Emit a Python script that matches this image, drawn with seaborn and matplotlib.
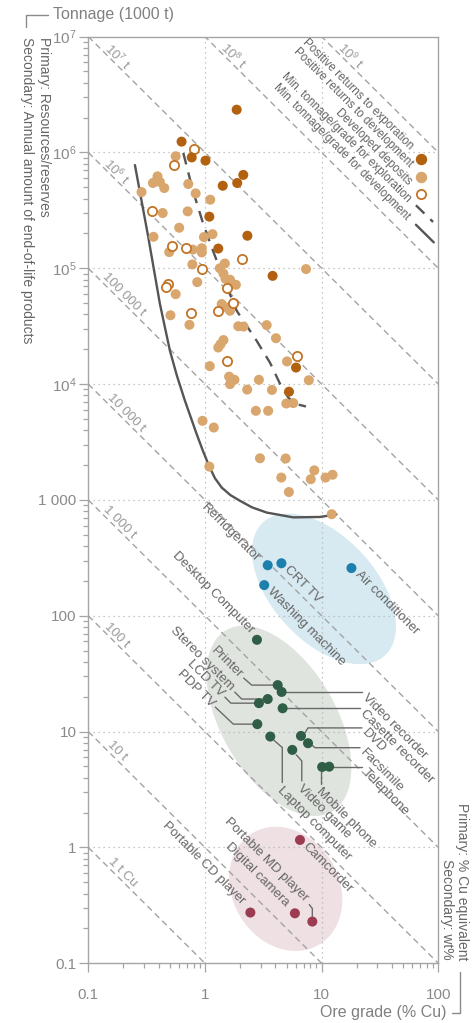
import numpy as np
import pandas as pd
import matplotlib
matplotlib.use("Agg")
import matplotlib.pyplot as plt
import seaborn as sns
from matplotlib.lines import Line2D
from matplotlib.ticker import LogLocator, NullFormatter

sns.set_theme(style="white")
FONT = "Liberation Sans"
plt.rcParams["font.family"] = [FONT, "DejaVu Sans"]
plt.rcParams["mathtext.fontset"] = "custom"
plt.rcParams["mathtext.rm"] = FONT
plt.rcParams["mathtext.it"] = FONT
plt.rcParams["mathtext.bf"] = FONT

# ---------------- primary deposits: grade (% Cu) vs tonnage (1000 t) ----------------
explore_grade = [1.87, 0.63, 0.77, 1.01, 2.13, 1.89, 1.42, 1.09, 2.31, 1.30, 3.80, 6.03, 5.25]
explore_tonnage = [2.34e6, 1.24e6, 9.06e5, 8.5e5, 6.4e5, 5.45e5, 5.16e5, 2.79e5, 1.91e5,
                   1.48e5, 8.6e4, 1.39e4, 8.6e3]

develop_grade = [0.561, 0.392, 0.358, 0.411, 0.448, 0.286, 0.719, 0.832, 1.11, 0.434, 0.711,
                 0.601, 0.362, 1.16, 0.98, 0.494, 0.785, 0.94, 0.94, 7.35, 1.64, 1.84, 1.50,
                 1.48, 0.78, 1.34, 1.44, 0.859, 0.561, 1.39, 1.53, 1.64, 0.506, 0.736, 1.93,
                 2.14, 3.38, 4.06, 1.44, 1.36, 1.30, 5.05, 1.10, 1.61, 1.79, 1.64, 2.90, 7.77,
                 2.30, 3.75, 4.98, 5.71, 2.73, 3.48, 0.953, 1.19, 2.96, 4.92, 1.09, 8.65, 8.07,
                 4.51, 10.8, 12.4, 5.24, 12.2]
develop_tonnage = [9.27e5, 6.22e5, 5.45e5, 5.56e5, 4.93e5, 4.55e5, 5.34e5, 4.43e5, 3.91e5,
                   3.0e5, 3.1e5, 2.24e5, 1.87e5, 1.97e5, 1.86e5, 1.38e5, 1.45e5, 1.49e5,
                   1.37e5, 9.84e4, 7.96e4, 7.2e4, 8.1e4, 1.10e5, 1.08e5, 1.0e5, 9.0e4, 7.6e4,
                   5.98e4, 4.91e4, 4.59e4, 4.3e4, 3.93e4, 3.25e4, 3.16e4, 3.14e4, 3.23e4,
                   2.49e4, 2.40e4, 2.21e4, 2.07e4, 1.57e4, 1.43e4, 1.16e4, 1.09e4, 1.0e4,
                   1.09e4, 1.08e4, 8.97e3, 8.9e3, 6.8e3, 6.86e3, 5.88e3, 5.88e3, 4.82e3,
                   4.22e3, 2.29e3, 2.28e3, 1.94e3, 1.80e3, 1.51e3, 1.56e3, 1.56e3, 1.65e3,
                   1.17e3, 753]

deposit_grade = [0.81, 0.54, 0.349, 0.519, 0.684, 2.06, 0.95, 0.481, 0.462, 1.53, 1.73, 1.29,
                 0.76, 1.55, 6.18]
deposit_tonnage = [1.08e6, 7.78e5, 3.1e5, 1.56e5, 1.51e5, 1.21e5, 9.8e4, 7.3e4, 6.84e4, 6.7e4,
                   5.0e4, 4.3e4, 4.1e4, 1.57e4, 1.74e4]

# minimum tonnage/grade curves
min_explore_grade = [0.652, 0.789, 0.96, 1.17, 1.48, 1.87, 2.77, 3.61, 4.39, 5.17, 5.91, 7.34]
min_explore_tonnage = [9.9e5, 4.67e5, 2.47e5, 1.42e5, 7.64e4, 4.30e4, 2.37e4, 1.53e4, 1.01e4,
                       7.66e3, 6.76e3, 6.41e3]
min_develop_grade = [0.251, 0.325, 0.411, 0.501, 0.575, 0.674, 0.849, 0.961, 1.09, 1.218,
                     1.39, 1.654, 2.0, 2.53, 3.38, 5.71, 9.66, 13.4]
min_develop_tonnage = [7.78e5, 1.91e5, 4.93e4, 1.94e4, 1.18e4, 7.17e3, 3.70e3, 2.65e3, 1.94e3,
                       1.54e3, 1.28e3, 1.10e3, 982, 863, 778, 707, 713, 750]

# ---------------- secondary: end-of-life products ----------------
large_names = ["Refridgerator", "CRT TV", "Washing machine", "Air conditioner"]
large_grade = [3.45, 4.52, 3.22, 18.0]
large_amount = [273, 284, 184, 258]

medium_names = ["Desktop Computer", "Printer", "Video recorder", "Stereo system", "LCD TV",
                "Casette recorder", "PDP TV", "Laptop computer", "DVD", "Facsimile",
                "Video game", "Mobile phone", "Telephone"]
medium_grade = [2.79, 4.20, 4.54, 3.45, 2.90, 4.63, 2.81, 3.63, 6.65, 7.64, 5.60, 10.1, 11.6]
medium_amount = [62, 25.2, 22.0, 19.1, 17.6, 15.9, 11.6, 9.06, 9.18, 7.94, 6.95, 4.95, 4.98]

small_names = ["Camcorder", "Portable CD player", "Digital camera", "Portable MD player"]
small_grade = [6.52, 2.45, 5.90, 8.32]
small_amount = [1.16, 0.274, 0.270, 0.229]

# iso-copper lines (t Cu contained)
copper_tonnes = [1, 10, 100, 1e3, 1e4, 1e5, 1e6, 1e7, 1e8, 1e9]
copper_labels = ["1 t Cu", "10 t", "100 t", "1 000 t", "10 000 t", "100 000 t",
                 r"$10^6$ t", r"$10^7$ t", r"$10^8$ t", r"$10^9$ t"]
copper_label_at = [0.18, 0.16, 0.16, 0.17, 0.194, 0.185, 0.16, 0.163, 1.6, 16]

y_ticks = [0.1, 1, 10, 100, 1e3, 1e4, 1e5, 1e6, 1e7]
y_ticklabels = ["0.1", "1", "10", "100", "1 000", r"$10^4$", r"$10^5$", r"$10^6$", r"$10^7$"]
x_ticks = [0.1, 1, 10, 100]
x_ticklabels = ["0.1", "1", "10", "100"]

legend_labels = ["Positive returns to exporation", "Positive returns to development",
                 "Developed deposits", "Min. tonnage/grade for exploration",
                 "Min. tonnage/grade for development"]

# ---------------- styling ----------------
DARK = "#b1610f"
LIGHT = "#d9a66d"
OPEN_EDGE = "#c27427"
CURVE = "#555555"
TEXT = "#666666"
TICK = "#8a8a8a"
DIAG = "#a3a3a3"
GRID = "#b5b5b5"
BLUE, BLUE_BG = "#1d7fab", "#d7e9f1"
GREEN, GREEN_BG = "#2f5d46", "#e0e4df"
RED, RED_BG = "#9b3c52", "#eee0e3"

fig = plt.figure(figsize=(4.77, 10.23), dpi=100)
ax = fig.add_axes([0.1851, 0.0584, 0.7338, 0.9058])
ax.set_xscale("log")
ax.set_yscale("log")
ax.set_xlim(0.1, 100)
ax.set_ylim(0.1, 1e7)

# grid
for g in [1, 10]:
    ax.axvline(g, color=GRID, lw=0.9, ls=(0, (1, 3)), zorder=1)
for g in y_ticks[1:-1]:
    ax.axhline(g, color=GRID, lw=0.9, ls=(0, (1, 3)), zorder=1)

# product groups (ellipses in log space)
def group_ellipse(cx, cy, a, b, angle, color):
    t = np.linspace(0, 2 * np.pi, 200)
    th = np.deg2rad(angle)
    lx = cx + a * np.cos(t) * np.cos(th) - b * np.sin(t) * np.sin(th)
    ly = cy + a * np.cos(t) * np.sin(th) + b * np.sin(t) * np.cos(th)
    ax.fill(10 ** lx, 10 ** ly, color=color, lw=0, zorder=0.5)

group_ellipse(1.02, 2.232, 0.776, 0.448, -48, BLUE_BG)
group_ellipse(0.634, 1.092, 0.905, 0.491, -60, GREEN_BG)
group_ellipse(0.692, -0.358, 0.56, 0.457, -60, RED_BG)

# iso-copper dashed diagonals
xs = np.array([0.1, 100.0])
for cu, lab, lx in zip(copper_tonnes, copper_labels, copper_label_at):
    ax.plot(xs, cu / (10 * xs), color=DIAG, lw=1.0, ls=(0, (4.5, 3)), zorder=1.5)
    ax.annotate(lab, xy=(lx, cu / (10 * lx)), xytext=(4.5, 4.5), textcoords="offset pixels",
                rotation=-45, rotation_mode="anchor", ha="center", va="center",
                fontsize=9.5, color="#9a9a9a", zorder=2)

# minimum tonnage/grade curves
sns.lineplot(x=min_develop_grade, y=min_develop_tonnage, ax=ax, sort=False, estimator=None,
             color=CURVE, lw=1.7, zorder=3)
sns.lineplot(x=min_explore_grade, y=min_explore_tonnage, ax=ax, sort=False, estimator=None,
             color=CURVE, lw=1.7, ls=(0, (5, 3.5)), zorder=3)

# deposits
sns.scatterplot(x=develop_grade, y=develop_tonnage, ax=ax, s=52, color=LIGHT,
                edgecolor="none", zorder=4)
sns.scatterplot(x=deposit_grade, y=deposit_tonnage, ax=ax, s=44, color="white",
                edgecolor=OPEN_EDGE, linewidth=1.3, zorder=5)
sns.scatterplot(x=explore_grade, y=explore_tonnage, ax=ax, s=52, color=DARK,
                edgecolor="none", zorder=6)

# end-of-life products
sns.scatterplot(x=large_grade, y=large_amount, ax=ax, s=52, color=BLUE, edgecolor="none", zorder=6)
sns.scatterplot(x=medium_grade, y=medium_amount, ax=ax, s=52, color=GREEN, edgecolor="none", zorder=6)
sns.scatterplot(x=small_grade, y=small_amount, ax=ax, s=52, color=RED, edgecolor="none", zorder=6)


def shifted(x, y, dx, dy):
    px, py = ax.transData.transform((x, y))
    return ax.transData.inverted().transform((px + dx, py - dy))


def label(name, x, y, ha, off, leader=None, size=9.5):
    if leader:
        pts = np.array([shifted(x, y, dx, dy) for dx, dy in leader])
        ax.plot(pts[:, 0], pts[:, 1], color="#6a6a6a", lw=1.0, zorder=5)
    ax.annotate(name, xy=(x, y), xytext=(off[0], -off[1]), textcoords="offset pixels",
                rotation=-45, rotation_mode="anchor", ha=ha, va="center",
                fontsize=size, color=TEXT, zorder=7)


layout = {
    "Refridgerator": ("right", (-10, -5), None),
    "CRT TV": ("left", (5, 5), None),
    "Washing machine": ("left", (5, 5), None),
    "Air conditioner": ("left", (6, 5), None),
    "Desktop Computer": ("right", (-5, -8), None),
    "Printer": ("right", (-37, -9), [(-4, 0), (-26, 0), (-34, -7)]),
    "Stereo system": ("right", (-36, -10), [(-4, 0), (-26, 0), (-33, -7)]),
    "LCD TV": ("right", (-37, -8), [(-4, 0), (-28, 0), (-34, -6)]),
    "PDP TV": ("right", (-45, -19), [(-4, 0), (-24, 0), (-42, -17)]),
    "Video recorder": ("left", (82, 4), [(4, 0), (80, 0)]),
    "Casette recorder": ("left", (79, 4), [(4, 0), (77, 0)]),
    "DVD": ("left", (63, -5), [(4, -3), (7, -8), (61, -8)]),
    "Facsimile": ("left", (54, 8), [(4, 2), (7, 4.5), (52, 4.5)]),
    "Telephone": ("left", (35, 4), [(4, 0), (33, 0)]),
    "Laptop computer": ("left", (9, 52), [(4, 4), (12, 11), (12, 46)]),
    "Video game": ("left", (7, 37), [(4, 5), (9.5, 11), (9.5, 31)]),
    "Mobile phone": ("left", (-4, 23), [(-1.5, 5), (-1.5, 17)]),
    "Camcorder": ("left", (5, 5), None),
    "Portable CD player": ("right", (-7, -10), None),
    "Digital camera": ("right", (-8, -9), None),
    "Portable MD player": ("right", (-6, -22), [(0, -5), (0, -13), (-3, -17)]),
}

for names, gx, gy in [(large_names, large_grade, large_amount),
                      (medium_names, medium_grade, medium_amount),
                      (small_names, small_grade, small_amount)]:
    for n, x, y in zip(names, gx, gy):
        ha, off, lead = layout[n]
        label(n, x, y, ha, off, lead)

# legend (stacked diagonal labels in the upper-right corner)
legend_text_pos = [(0.9240, 0.8797), (0.9211, 0.8609), (0.9191, 0.8418), (0.9149, 0.8236),
                   (0.9134, 0.8043)]
for txt, (fx, fy) in zip(legend_labels, legend_text_pos):
    ax.text(fx, fy, txt, transform=ax.transAxes, rotation=-45, rotation_mode="anchor",
            ha="right", va="center", fontsize=8.4, color=TEXT, zorder=7)
ax.scatter([0.9506], [0.868], s=52, color=DARK, transform=ax.transAxes, zorder=7, clip_on=False)
ax.scatter([0.9506], [0.8485], s=52, color=LIGHT, transform=ax.transAxes, zorder=7, clip_on=False)
ax.scatter([0.9506], [0.830], s=44, color="white", edgecolor=OPEN_EDGE, linewidth=1.3,
           transform=ax.transAxes, zorder=7, clip_on=False)
ax.add_line(Line2D([0.936, 0.985], [0.818, 0.800], transform=ax.transAxes, color=CURVE,
                   lw=1.7, ls=(0, (5, 3.5)), zorder=7))
ax.add_line(Line2D([0.936, 0.987], [0.797, 0.778], transform=ax.transAxes, color=CURVE,
                   lw=1.7, zorder=7))

# axes, ticks
for side in ["left", "bottom", "top", "right"]:
    ax.spines[side].set_color("#a5a5a5")
    ax.spines[side].set_linewidth(1.0)
    ax.spines[side].set_visible(True)
ax.set_xticks(x_ticks)
ax.set_xticklabels(x_ticklabels)
ax.set_yticks(y_ticks)
ax.set_yticklabels(y_ticklabels)
ax.xaxis.set_minor_locator(LogLocator(base=10, subs=np.arange(2, 10), numticks=20))
ax.yaxis.set_minor_locator(LogLocator(base=10, subs=np.arange(2, 10), numticks=20))
ax.xaxis.set_minor_formatter(NullFormatter())
ax.yaxis.set_minor_formatter(NullFormatter())
ax.tick_params(which="both", direction="out", color="#a5a5a5", width=0.9,
               top=False, right=False, left=True, bottom=True)
ax.tick_params(which="major", length=6.5, labelsize=11, labelcolor=TICK)
ax.tick_params(which="minor", length=3.5)
ax.tick_params(axis="x", which="major", pad=11)
ax.tick_params(axis="y", which="major", pad=2)
ax.set_xlabel("")
ax.set_ylabel("")

# axis titles with bracket marks
fig.text(53 / 477, 1 - 15 / 1023, "Tonnage (1000 t)", ha="left", va="center",
         fontsize=11.5, color="#808080")
fig.add_artist(Line2D([26 / 477, 26 / 477, 48 / 477], [1 - 27 / 1023, 1 - 15 / 1023, 1 - 15 / 1023],
                      transform=fig.transFigure, color="#8a8a8a", lw=1.0))
fig.text(44 / 477, 1 - 37 / 1023, "Primary: Resources/reserves", rotation=270,
         rotation_mode="anchor", ha="left", va="center", fontsize=10, color=TEXT)
fig.text(27 / 477, 1 - 37 / 1023, "Secondary: Annual amount of end-of-life products",
         rotation=270, rotation_mode="anchor", ha="left", va="center", fontsize=10, color=TEXT)

fig.text(447 / 477, 1 - 1013 / 1023, "Ore grade (% Cu)", ha="right", va="center",
         fontsize=11.5, color="#808080")
fig.add_artist(Line2D([452 / 477, 460 / 477, 460 / 477], [1 - 1013 / 1023, 1 - 1013 / 1023, 1 - 972 / 1023],
                      transform=fig.transFigure, color="#8a8a8a", lw=1.0))
fig.text(462 / 477, 1 - 960 / 1023, "Primary: % Cu equivalent", rotation=270,
         rotation_mode="anchor", ha="right", va="center", fontsize=10, color=TEXT)
fig.text(447 / 477, 1 - 960 / 1023, "Secondary: wt%", rotation=270,
         rotation_mode="anchor", ha="right", va="center", fontsize=10, color=TEXT)

fig.savefig("out.png", dpi=100)
